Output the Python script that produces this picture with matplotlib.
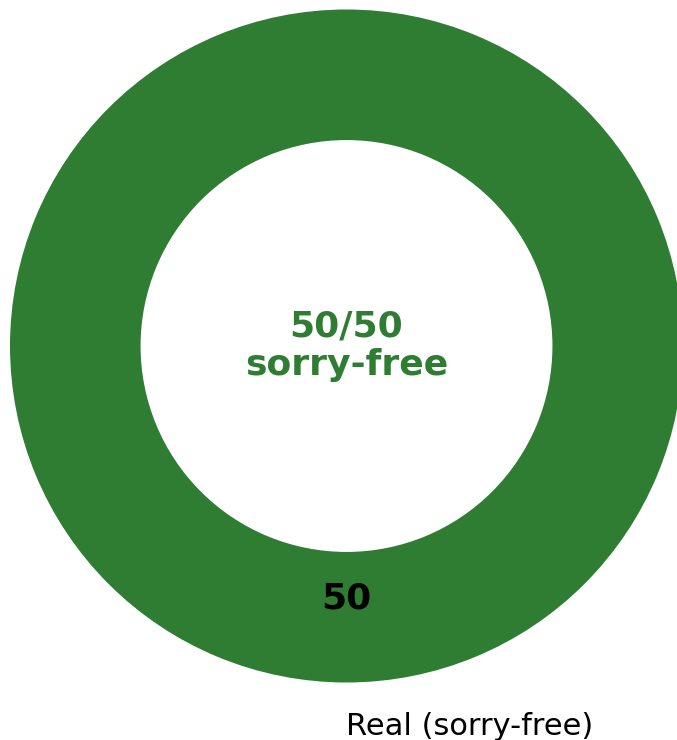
import matplotlib.pyplot as plt

# Data
labels = ['Real (sorry-free)']
values = [50]
colors = ['#2e7d32']
center_text = '50/50\nsorry-free'

fig = plt.figure(figsize=(6.77, 7.4), dpi=100)
# axes placed so the donut sits like the reference (partly clipped at right)
ax = fig.add_axes([10 / 677, 57.5 / 740, 673 / 677, 673 / 740])

wedges, texts, autotexts = ax.pie(
    values, labels=labels, colors=colors, startangle=90, counterclock=False,
    autopct=lambda p: '%d' % round(p * sum(values) / 100),
    pctdistance=0.75, labeldistance=1.13,
    wedgeprops=dict(width=0.388, edgecolor='none'),
    textprops=dict(fontsize=22),
)
for t in texts:
    t.set_horizontalalignment('left')
for t in autotexts:
    t.set_fontsize(26)
    t.set_fontweight('bold')
    t.set_color('black')

ax.text(0, 0, center_text, ha='center', va='center', fontsize=26,
        fontweight='bold', color=colors[0], linespacing=1.15)

ax.set_xlim(-1, 1)
ax.set_ylim(-1, 1)
ax.set_aspect('equal')
ax.axis('off')

fig.savefig('out.png', dpi=100)
